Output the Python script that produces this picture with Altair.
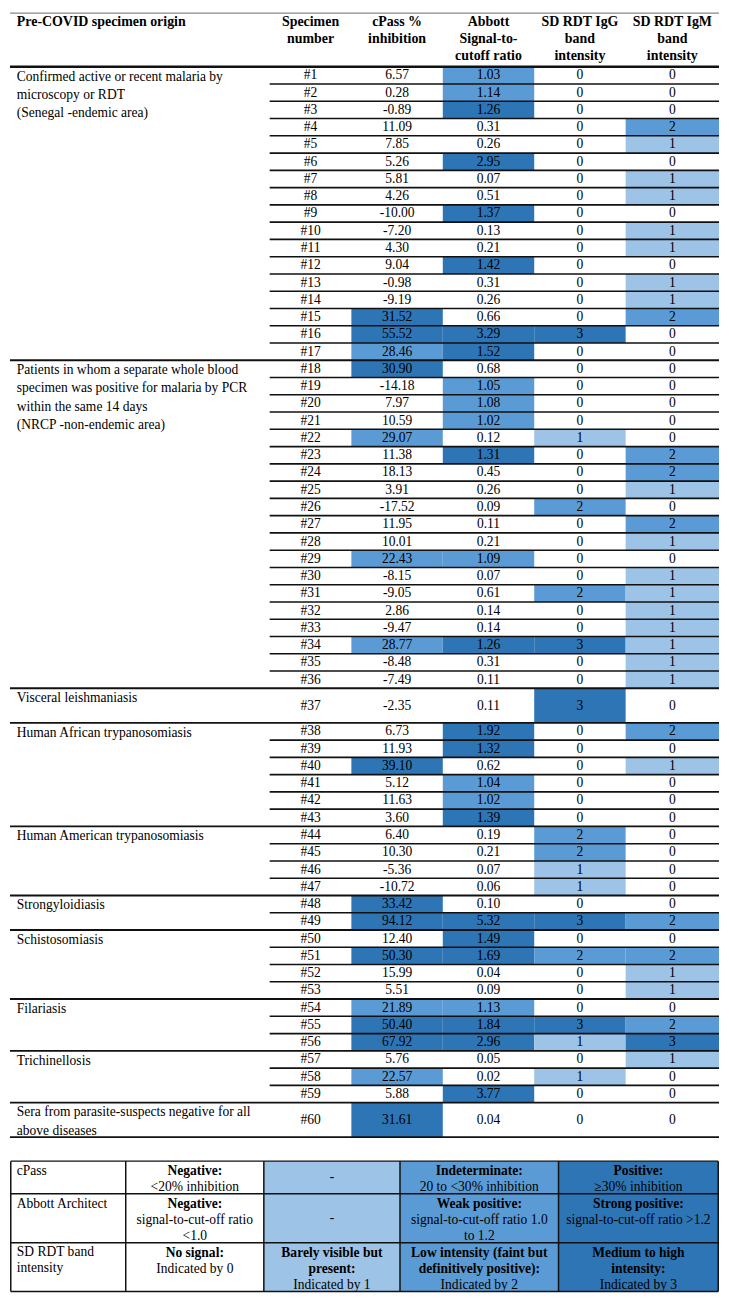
import altair as alt
import pandas as pd

# ---------------- data ----------------
SPECIMEN = ["#1", "#2", "#3", "#4", "#5", "#6", "#7", "#8", "#9", "#10",
            "#11", "#12", "#13", "#14", "#15", "#16", "#17", "#18", "#19", "#20",
            "#21", "#22", "#23", "#24", "#25", "#26", "#27", "#28", "#29", "#30",
            "#31", "#32", "#33", "#34", "#35", "#36", "#37", "#38", "#39", "#40",
            "#41", "#42", "#43", "#44", "#45", "#46", "#47", "#48", "#49", "#50",
            "#51", "#52", "#53", "#54", "#55", "#56", "#57", "#58", "#59", "#60"]

CPASS = [6.57, 0.28, -0.89, 11.09, 7.85, 5.26, 5.81, 4.26, -10.00, -7.20,
         4.30, 9.04, -0.98, -9.19, 31.52, 55.52, 28.46,
         30.90, -14.18, 7.97, 10.59, 29.07, 11.38, 18.13, 3.91, -17.52, 11.95,
         10.01, 22.43, -8.15, -9.05, 2.86, -9.47, 28.77, -8.48, -7.49,
         -2.35,
         6.73, 11.93, 39.10, 5.12, 11.63, 3.60,
         6.40, 10.30, -5.36, -10.72,
         33.42, 94.12,
         12.40, 50.30, 15.99, 5.51,
         21.89, 50.40, 67.92,
         5.76, 22.57, 5.88,
         31.61]

ABBOTT = [1.03, 1.14, 1.26, 0.31, 0.26, 2.95, 0.07, 0.51, 1.37, 0.13,
          0.21, 1.42, 0.31, 0.26, 0.66, 3.29, 1.52,
          0.68, 1.05, 1.08, 1.02, 0.12, 1.31, 0.45, 0.26, 0.09, 0.11,
          0.21, 1.09, 0.07, 0.61, 0.14, 0.14, 1.26, 0.31, 0.11,
          0.11,
          1.92, 1.32, 0.62, 1.04, 1.02, 1.39,
          0.19, 0.21, 0.07, 0.06,
          0.10, 5.32,
          1.49, 1.69, 0.04, 0.09,
          1.13, 1.84, 2.96,
          0.05, 0.02, 3.77,
          0.04]

IGG = [0, 0, 0, 0, 0, 0, 0, 0, 0, 0, 0, 0, 0, 0, 0, 3, 0,
       0, 0, 0, 0, 1, 0, 0, 0, 2, 0, 0, 0, 0, 2, 0, 0, 3, 0, 0,
       3,
       0, 0, 0, 0, 0, 0,
       2, 2, 1, 1,
       0, 3,
       0, 2, 0, 0,
       0, 3, 1,
       0, 1, 0,
       0]

IGM = [0, 0, 0, 2, 1, 0, 1, 1, 0, 1, 1, 0, 1, 1, 2, 0, 0,
       0, 0, 0, 0, 0, 2, 2, 1, 0, 2, 1, 0, 1, 1, 1, 1, 1, 1, 1,
       0,
       2, 0, 1, 0, 0, 0,
       0, 0, 0, 0,
       0, 2,
       0, 2, 1, 1,
       0, 2, 3,
       1, 0, 0,
       0]

GROUP_LABELS = [
    ["Confirmed active or recent malaria by", "microscopy or RDT", "(Senegal -endemic area)"],
    ["Patients in whom a separate whole blood", "specimen was positive for malaria by PCR",
     "within the same 14 days", "(NRCP -non-endemic area)"],
    ["Visceral leishmaniasis"],
    ["Human African trypanosomiasis"],
    ["Human American trypanosomiasis"],
    ["Strongyloidiasis"],
    ["Schistosomiasis"],
    ["Filariasis"],
    ["Trichinellosis"],
    ["Sera from parasite-suspects negative for all", "above diseases"],
]
GROUP_SIZES = [17, 19, 1, 6, 4, 2, 4, 3, 3, 1]

HEADERS = [
    ["Pre-COVID specimen origin"],
    ["Specimen", "number"],
    ["cPass %", "inhibition"],
    ["Abbott", "Signal-to-", "cutoff ratio"],
    ["SD RDT IgG", "band", "intensity"],
    ["SD RDT IgM", "band", "intensity"],
]

LEGEND_ROW_LABELS = [["cPass"], ["Abbott Architect"], ["SD RDT band", "intensity"]]
LEGEND_CELLS = [
    [[("Negative:", True), ("<20% inhibition", False)],
     [("-", False)],
     [("Indeterminate:", True), ("20 to <30% inhibition", False)],
     [("Positive:", True), ("\u226530% inhibition", False)]],
    [[("Negative:", True), ("signal-to-cut-off ratio", False), ("<1.0", False)],
     [("-", False)],
     [("Weak positive:", True), ("signal-to-cut-off ratio 1.0", False), ("to 1.2", False)],
     [("Strong positive:", True), ("signal-to-cut-off ratio >1.2", False)]],
    [[("No signal:", True), ("Indicated by 0", False)],
     [("Barely visible but", True), ("present:", True), ("Indicated by 1", False)],
     [("Low intensity (faint but", True), ("definitively positive):", True), ("Indicated by 2", False)],
     [("Medium to high", True), ("intensity:", True), ("Indicated by 3", False)]],
]
LEGEND_LEVELS = [0, 1, 2, 3]  # colour level of legend columns 1..4

# ---------------- layout (styling) ----------------
LIGHT, MED, DARK = "#9DC3E6", "#5B9BD5", "#2E75B6"
W_REF, H_REF = 729, 1312
COL_EDGES = [0, 267, 351, 445, 539, 633, 729]
HEADER_LINES_Y = [10, 27.5, 45]
HEADER_BOTTOM = 55.5
UNIT = 17.685
LABEL_LH = 18.8
LEG_COL_EDGES = [0.8, 119, 261, 401, 564, 728.2]
LEG_ROW_EDGES = [1176.5, 1210, 1260, 1310]
LEG_LH = 16.3
FONT = "Liberation Serif, Times New Roman, serif"
FS = 13.6
FS_HEAD = 14


def cpass_level(v):
    return 3 if v >= 30 else (2 if v >= 20 else 0)


def abbott_level(v):
    return 3 if v > 1.2 else (2 if v >= 1.0 else 0)


# ---------------- build tables ----------------
rects, texts, lines = [], [], []

# row spans: single-specimen groups occupy a double-height row
spans, last_in_group = [], []
for size in GROUP_SIZES:
    for k in range(size):
        spans.append(2 if size == 1 else 1)
        last_in_group.append(k == size - 1)

y = HEADER_BOTTOM
row_top = []
for i in range(len(SPECIMEN)):
    y0 = y
    y1 = y + spans[i] * UNIT
    row_top.append(y0)
    ym = (y0 + y1) / 2
    vals = [SPECIMEN[i], f"{CPASS[i]:.2f}", f"{ABBOTT[i]:.2f}", str(IGG[i]), str(IGM[i])]
    levels = [0, cpass_level(CPASS[i]), abbott_level(ABBOTT[i]), IGG[i], IGM[i]]
    for c in range(5):
        xa, xb = COL_EDGES[c + 1], COL_EDGES[c + 2]
        if levels[c] > 0:
            rects.append(dict(x=xa, x2=xb, y=y0, y2=y1, level=levels[c]))
        texts.append(dict(x=(xa + xb) / 2, y=ym, text=vals[c], bold=False, align="center", fs=FS))
    if last_in_group[i]:
        lines.append(dict(x=0, x2=W_REF, y=y1, y2=y1, w=1.9, c="#111111"))
    else:
        lines.append(dict(x=COL_EDGES[1], x2=W_REF, y=y1, y2=y1, w=1.6, c="#111111"))
    y = y1

# group labels
start = 0
for labels, size in zip(GROUP_LABELS, GROUP_SIZES):
    top = row_top[start]
    for j, t in enumerate(labels):
        texts.append(dict(x=7, y=top + 10 + j * LABEL_LH, text=t, bold=False, align="left", fs=FS))
    start += size

# header
for c, hl in enumerate(HEADERS):
    for j, t in enumerate(hl):
        if c == 0:
            texts.append(dict(x=7, y=HEADER_LINES_Y[j], text=t, bold=True, align="left", fs=FS_HEAD))
        else:
            xa, xb = COL_EDGES[c], COL_EDGES[c + 1]
            texts.append(dict(x=(xa + xb) / 2, y=HEADER_LINES_Y[j], text=t, bold=True,
                              align="center", fs=FS_HEAD))
lines.append(dict(x=0, x2=W_REF, y=0.6, y2=0.6, w=1.2, c="#888888"))
lines.append(dict(x=0, x2=W_REF, y=HEADER_BOTTOM, y2=HEADER_BOTTOM, w=2.6, c="#111111"))

# legend table
for r in range(3):
    ya, yb = LEG_ROW_EDGES[r], LEG_ROW_EDGES[r + 1]
    for j, t in enumerate(LEGEND_ROW_LABELS[r]):
        texts.append(dict(x=7, y=ya + 10 + j * LEG_LH, text=t, bold=False, align="left", fs=FS))
    for c in range(4):
        xa, xb = LEG_COL_EDGES[c + 1], LEG_COL_EDGES[c + 2]
        if LEGEND_LEVELS[c] > 0:
            rects.append(dict(x=xa, x2=xb, y=ya, y2=yb, level=LEGEND_LEVELS[c]))
        cell = LEGEND_CELLS[r][c]
        if len(cell) == 1:
            texts.append(dict(x=(xa + xb) / 2, y=(ya + yb) / 2, text=cell[0][0],
                              bold=cell[0][1], align="center", fs=FS))
        else:
            for j, (t, b) in enumerate(cell):
                texts.append(dict(x=(xa + xb) / 2, y=ya + 10.5 + j * LEG_LH, text=t,
                                  bold=b, align="center", fs=FS))
for ye in LEG_ROW_EDGES:
    lines.append(dict(x=LEG_COL_EDGES[0], x2=LEG_COL_EDGES[-1], y=ye, y2=ye, w=1.5, c="#111111"))
for xe in LEG_COL_EDGES:
    lines.append(dict(x=xe, x2=xe, y=LEG_ROW_EDGES[0], y2=LEG_ROW_EDGES[-1], w=1.5, c="#111111"))

rect_df = pd.DataFrame(rects)
text_df = pd.DataFrame(texts)
line_df = pd.DataFrame(lines)

# ---------------- chart ----------------
PW, PH = 713, 1288
xs = alt.Scale(domain=[0, W_REF], nice=False, zero=False)
ys = alt.Scale(domain=[0, H_REF], nice=False, zero=False, reverse=True)

rect_layer = alt.Chart(rect_df).mark_rect(strokeWidth=0).encode(
    x=alt.X("x:Q", scale=xs, axis=None),
    x2="x2:Q",
    y=alt.Y("y:Q", scale=ys, axis=None),
    y2="y2:Q",
    color=alt.Color("level:O", scale=alt.Scale(domain=[1, 2, 3], range=[LIGHT, MED, DARK]), legend=None),
)

line_layer = alt.Chart(line_df).mark_rule().encode(
    x=alt.X("x:Q", scale=xs, axis=None),
    x2="x2:Q",
    y=alt.Y("y:Q", scale=ys, axis=None),
    y2="y2:Q",
    strokeWidth=alt.StrokeWidth("w:Q", scale=None),
    color=alt.Color("c:N", scale=None),
)


def text_layer(df, bold, align):
    return alt.Chart(df).mark_text(
        font=FONT, fontWeight="bold" if bold else "normal",
        align=align, baseline="middle", color="#000000",
    ).encode(
        x=alt.X("x:Q", scale=xs, axis=None),
        y=alt.Y("y:Q", scale=ys, axis=None),
        text="text:N",
        size=alt.Size("fs:Q", scale=None),
    )


layers = [rect_layer, line_layer]
for b in (False, True):
    for a in ("center", "left"):
        sub = text_df[(text_df["bold"] == b) & (text_df["align"] == a)]
        if len(sub):
            layers.append(text_layer(sub, b, a))

chart = alt.layer(*layers).properties(
    width=PW, height=PH, padding=0, background="white"
).configure_view(stroke=None)

chart.save("out.html", embed_options={"renderer": "svg", "actions": False})
